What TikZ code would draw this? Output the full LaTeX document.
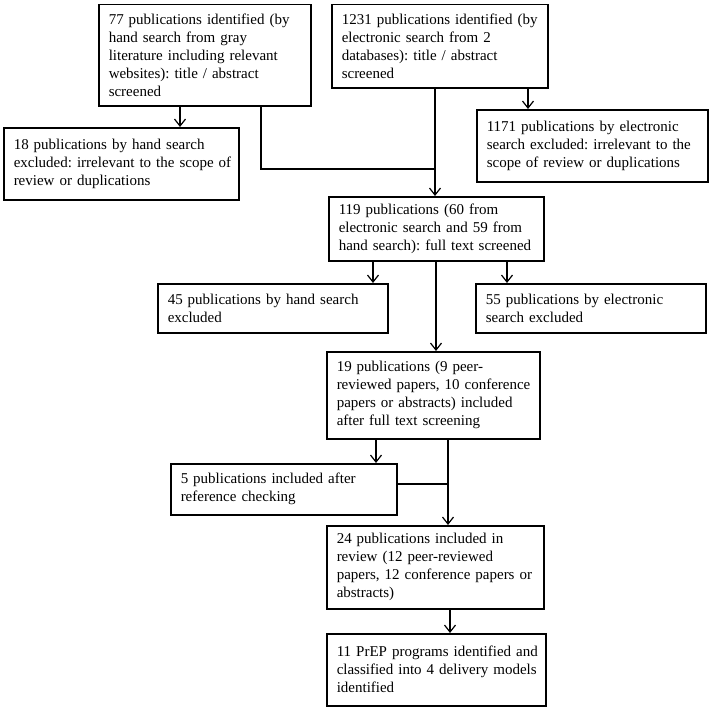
\documentclass[tikz,border=0pt]{standalone}
\usepackage{fontspec}
\setmainfont{Liberation Serif}
\usetikzlibrary{arrows.meta}
\frenchspacing
\tikzset{
  box/.style={draw=black, line width=1.5pt, fill=white, anchor=north west,
    inner xsep=0pt, inner ysep=3pt, align=left,
    font=\fontsize{15}{18}\selectfont},
  arr/.style={line width=1.2pt, -{Straight Barb[length=7pt,width=11pt]}},
  ln/.style={line width=1.2pt},
}
\newcommand{\bx}[6]{% name, x1, y1, x2, y2, text
  \pgfmathsetmacro{\mytw}{#4-#2}%
  \pgfmathsetmacro{\myht}{#5-#3}%
  \node[box, text width=\mytw pt, minimum height=\myht pt] (#1) at (#2,#3)
    {\frenchspacing\leftskip=10pt\hyphenpenalty=10000\relax #6\par};}
\begin{document}
\begin{tikzpicture}[x=1pt,y=-1pt]
\useasboundingbox (0,0) rectangle (709,709);
\bx{A}{98}{4}{310}{105}{77 publications identified (by\\hand search from gray\\literature including relevant\\websites): title / abstract\\screened}
\bx{B}{331}{4}{547}{87}{1231 publications identified (by\\electronic search from 2\\databases): title / abstract\\screened}
\bx{C}{3}{127}{238}{199}{18 publications by hand search\\excluded: irrelevant to the scope of\\review or duplications}
\bx{D}{476}{109}{707}{181}{1171 publications by electronic\\search excluded: irrelevant to the\\scope of review or duplications}
\bx{E}{328}{196}{543}{260}{119 publications (60 from\\electronic search and 59 from\\hand search): full text screened}
\bx{F}{157}{283}{387}{332}{45 publications by hand search\\excluded}
\bx{G}{475}{283}{705}{332}{55 publications by electronic\\search excluded}
\bx{H}{326}{351}{539}{438}{19 publications (9 peer-\\reviewed papers, 10 conference\\papers or abstracts) included\\after full text screening}
\bx{I}{170}{463}{396}{514}{5 publications included after\\reference checking}
\bx{J}{326}{525}{543}{608}{24 publications included in\\review (12 peer-reviewed\\papers, 12 conference papers or\\abstracts)}
\bx{K}{326}{633}{545}{705}{11 PrEP programs identified and\\classified into 4 delivery models\\identified}
% x positions of connectors
\coordinate (xAC) at (180,0);
\coordinate (xAE) at (261,0);
\coordinate (xBE) at (435,0);
\coordinate (xBD) at (528,0);
\coordinate (jAE) at (435,169);
\coordinate (xEF) at (373,0);
\coordinate (xEG) at (507,0);
\coordinate (xEH) at (436,0);
\coordinate (xHI) at (376,0);
\coordinate (xHJ) at (448,0);
\coordinate (jIJ) at (448,484);
\coordinate (xJK) at (450,0);
\draw[arr] (A.south -| xAC) -- (C.north -| xAC);
\draw[ln] (A.south -| xAE) |- (jAE);
\draw[arr] (B.south -| xBE) -- (E.north -| xBE);
\draw[arr] (B.south -| xBD) -- (D.north -| xBD);
\draw[arr] (E.south -| xEF) -- (F.north -| xEF);
\draw[arr] (E.south -| xEG) -- (G.north -| xEG);
\draw[arr] (E.south -| xEH) -- (H.north -| xEH);
\draw[arr] (H.south -| xHI) -- (I.north -| xHI);
\draw[arr] (H.south -| xHJ) -- (J.north -| xHJ);
\draw[ln] (I.east |- jIJ) -- (jIJ);
\draw[arr] (J.south -| xJK) -- (K.north -| xJK);
\end{tikzpicture}
\end{document}
